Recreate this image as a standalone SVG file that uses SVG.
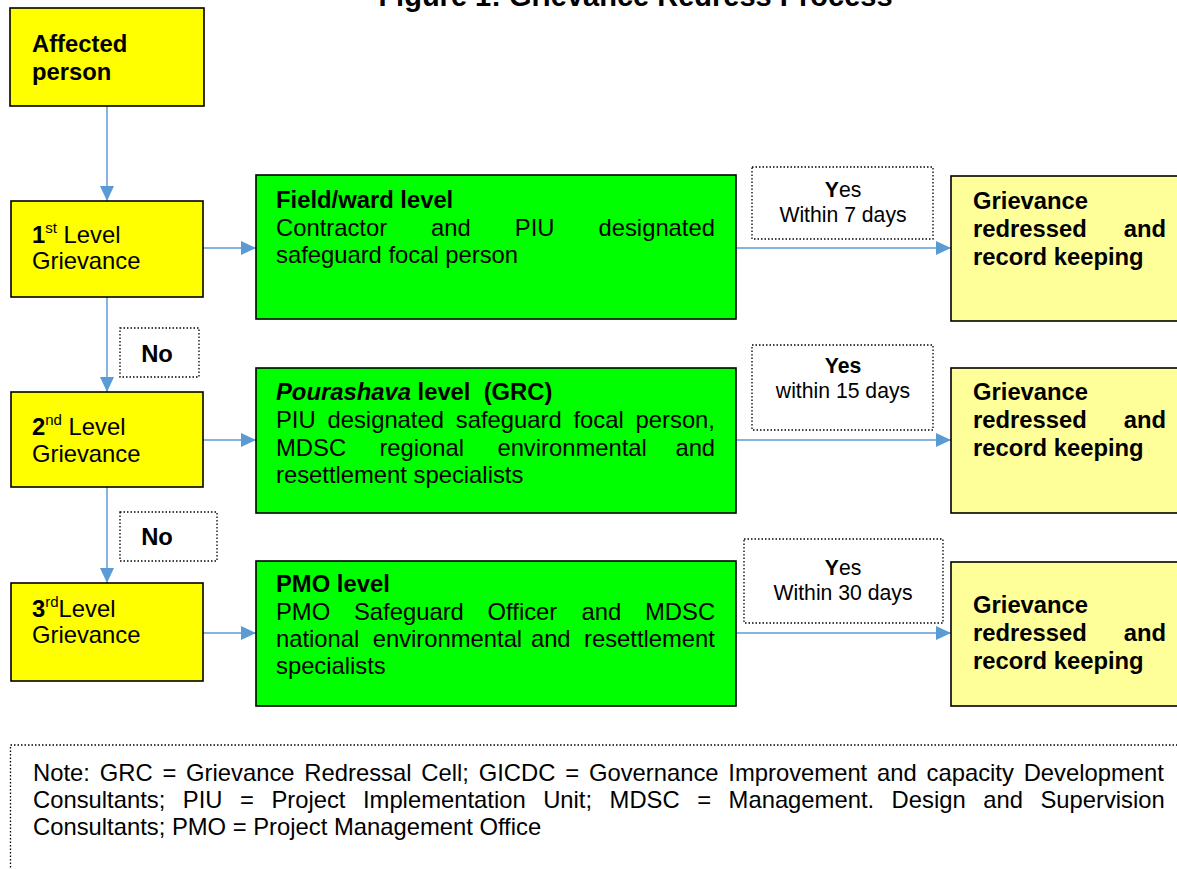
<svg xmlns="http://www.w3.org/2000/svg" width="1177" height="869" viewBox="0 0 1177 869">
<style>
.t{font-family:"Liberation Sans",Arial,sans-serif;font-size:23.8px;fill:#000}
.b{font-weight:bold}
.sm{font-size:21.2px}
.y{fill:#FFFF00;stroke:#000;stroke-width:1.6}
.g{fill:#00FF00;stroke:#000;stroke-width:1.6}
.ly{fill:#FFFF99;stroke:#000;stroke-width:1.6}
.dot{fill:#fff;stroke:#000;stroke-width:1.3;stroke-dasharray:1.5 2}
.conn{stroke:#5B9BD5;stroke-width:1.5;fill:none;marker-end:url(#ah)}
</style>
<defs>
<marker id="ah" markerUnits="userSpaceOnUse" markerWidth="15" markerHeight="14" refX="15" refY="7" orient="auto">
<path d="M0,0 L15,7 L0,14 Z" fill="#5B9BD5"/>
</marker>
</defs>
<rect width="1177" height="869" fill="#fff"/>
<text class="t b" x="635.5" y="6" text-anchor="middle" style="font-size:29px">Figure 1: Grievance Redress Process</text>

<g id="connectors">
<line class="conn" x1="107" y1="106" x2="107" y2="201"/>
<line class="conn" x1="107" y1="297" x2="107" y2="392"/>
<line class="conn" x1="107" y1="487" x2="107" y2="583"/>
<line class="conn" x1="203" y1="248" x2="256" y2="248"/>
<line class="conn" x1="203" y1="440" x2="256" y2="440"/>
<line class="conn" x1="203" y1="633" x2="256" y2="633"/>
<line class="conn" x1="736" y1="248" x2="951" y2="248"/>
<line class="conn" x1="736" y1="440" x2="951" y2="440"/>
<line class="conn" x1="736" y1="633" x2="951" y2="633"/>
</g>

<g id="affected">
<rect class="y" x="10" y="8" width="194" height="98"/>
<text class="t b" x="32" y="52">Affected</text>
<text class="t b" x="32" y="80">person</text>
</g>

<g id="level1">
<rect class="y" x="11" y="201" width="192" height="96"/>
<text class="t" x="32" y="243"><tspan class="b">1</tspan><tspan style="font-size:15px" dy="-10">st</tspan><tspan dy="10"> Level</tspan></text>
<text class="t" x="32" y="269">Grievance</text>
</g>

<g id="level2">
<rect class="y" x="11" y="392" width="192" height="95"/>
<text class="t" x="32" y="435"><tspan class="b">2</tspan><tspan style="font-size:15px" dy="-10">nd</tspan><tspan dy="10"> Level</tspan></text>
<text class="t" x="32" y="462">Grievance</text>
</g>

<g id="level3">
<rect class="y" x="11" y="583" width="192" height="98"/>
<text class="t" x="32" y="617"><tspan class="b">3</tspan><tspan style="font-size:15px" dy="-10">rd</tspan><tspan dy="10">Level</tspan></text>
<text class="t" x="32" y="643">Grievance</text>
</g>

<g id="no1">
<rect class="dot" x="120" y="328" width="79" height="49"/>
<text class="t b" x="157" y="362" text-anchor="middle">No</text>
</g>

<g id="no2">
<rect class="dot" x="120" y="512" width="97" height="49"/>
<text class="t b" x="157" y="545" text-anchor="middle">No</text>
</g>

<g id="field">
<rect class="g" x="256" y="175" width="480" height="144"/>
<text class="t b" x="276" y="208">Field/ward level</text>
<text class="t" y="236"><tspan x="276">Contractor</tspan><tspan x="431.1">and</tspan><tspan x="514.8">PIU</tspan><tspan x="598.5">designated</tspan></text>
<text class="t" x="276" y="263">safeguard focal person</text>
</g>

<g id="pourashava">
<rect class="g" x="256" y="368" width="480" height="145"/>
<text class="t b" x="276" y="400"><tspan font-style="italic">Pourashava</tspan> level&#160; (GRC)</text>
<text class="t" y="428"><tspan x="276">PIU</tspan><tspan x="327.5">designated</tspan><tspan x="455.8">safeguard</tspan><tspan x="573.5">focal</tspan><tspan x="635.6">person,</tspan></text>
<text class="t" y="456"><tspan x="276">MDSC</tspan><tspan x="379.4">regional</tspan><tspan x="497.4">environmental</tspan><tspan x="675.4">and</tspan></text>
<text class="t" x="276" y="483">resettlement specialists</text>
</g>

<g id="pmo">
<rect class="g" x="256" y="561" width="480" height="145"/>
<text class="t b" x="276" y="592">PMO level</text>
<text class="t" y="620"><tspan x="276">PMO</tspan><tspan x="354">Safeguard</tspan><tspan x="487.6">Officer</tspan><tspan x="581.5">and</tspan><tspan x="645">MDSC</tspan></text>
<text class="t" y="647"><tspan x="276">national</tspan><tspan x="372.7">environmental</tspan><tspan x="530.9">and</tspan><tspan x="584">resettlement</tspan></text>
<text class="t" x="276" y="674">specialists</text>
</g>

<g id="yes1">
<rect class="dot" x="752" y="167" width="181" height="72"/>
<text class="t sm" x="843" y="197" text-anchor="middle"><tspan class="b">Y</tspan>es</text>
<text class="t sm" x="843" y="222" text-anchor="middle">Within 7 days</text>
</g>

<g id="yes2">
<rect class="dot" x="752" y="345" width="181" height="85"/>
<text class="t sm b" x="843" y="373" text-anchor="middle">Yes</text>
<text class="t sm" x="843" y="398" text-anchor="middle">within 15 days</text>
</g>

<g id="yes3">
<rect class="dot" x="744" y="539" width="199" height="84"/>
<text class="t sm" x="843" y="575" text-anchor="middle"><tspan class="b">Y</tspan>es</text>
<text class="t sm" x="843" y="600" text-anchor="middle">Within 30 days</text>
</g>

<g id="redressed1">
<rect class="ly" x="951" y="176" width="240" height="145"/>
<text class="t b" x="973" y="209">Grievance</text>
<text class="t b" x="973" y="237">redressed</text>
<text class="t b" x="1166" y="237" text-anchor="end">and</text>
<text class="t b" x="973" y="265">record keeping</text>
</g>

<g id="redressed2">
<rect class="ly" x="951" y="368" width="240" height="145"/>
<text class="t b" x="973" y="400">Grievance</text>
<text class="t b" x="973" y="428">redressed</text>
<text class="t b" x="1166" y="428" text-anchor="end">and</text>
<text class="t b" x="973" y="456">record keeping</text>
</g>

<g id="redressed3">
<rect class="ly" x="951" y="562" width="240" height="144"/>
<text class="t b" x="973" y="613">Grievance</text>
<text class="t b" x="973" y="641">redressed</text>
<text class="t b" x="1166" y="641" text-anchor="end">and</text>
<text class="t b" x="973" y="669">record keeping</text>
</g>

<g id="note">
<rect class="dot" x="10.5" y="745" width="1200" height="200"/>
<text class="t" x="33" y="781" style="word-spacing:3.2px">Note: GRC = Grievance Redressal Cell; GICDC = Governance Improvement and capacity Development</text>
<text class="t" x="33" y="808" style="word-spacing:10.9px">Consultants; PIU = Project Implementation Unit; MDSC = Management. Design and Supervision</text>
<text class="t" x="33" y="835">Consultants; PMO = Project Management Office</text>
</g>
</svg>
